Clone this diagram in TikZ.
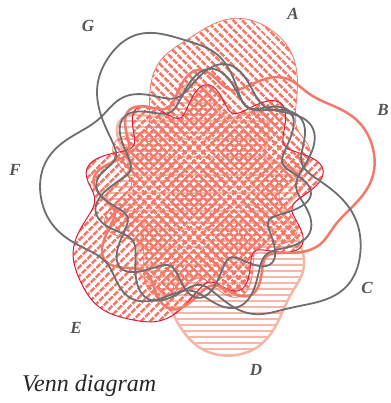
\documentclass[tikz,border=0pt]{standalone}
\usepackage{fontspec}
\setmainfont{Liberation Serif}
\usetikzlibrary{patterns.meta}
\definecolor{salmon}{HTML}{F37A6B}
\definecolor{lsalmon}{HTML}{F7B5A6}
\definecolor{crimson}{HTML}{E21A3A}
\definecolor{vgray}{HTML}{6D6E70}
\definecolor{lblgray}{HTML}{555555}
% vr(t, phi, Ro, phase, amp, n, Ri)
\pgfmathdeclarefunction{vr}{7}{%
  \begingroup
  \pgfmathparse{mod(#1-#2+540,360)-180}\let\tp\pgfmathresult
  \pgfmathparse{exp(-min((\tp/35)^2,10))}\let\g\pgfmathresult
  \pgfmathparse{#7+(#3-#7)*\g+(#5*sin(#6*\tp+#4)+8*cos(2*\tp+#4))*(1-\g)}%
  \pgfmathsmuggle\pgfmathresult
  \endgroup}
\tikzset{
  setA/.style={draw=salmon,line width=0.8pt,pattern={Lines[angle=-45,distance=6.5pt,line width=3pt]},pattern color=salmon},
  setB/.style={draw=salmon,line width=2.5pt},
  setD/.style={draw=lsalmon,line width=2.5pt,pattern={Lines[angle=0,distance=6pt,line width=2.6pt]},pattern color=lsalmon},
  setE/.style={draw=crimson,line width=1pt,pattern={Lines[angle=45,distance=6.5pt,line width=3pt]},pattern color=salmon},
  setG/.style={draw=vgray,line width=1.8pt},
  lbl/.style={font=\bfseries\itshape\fontsize{17}{17}\selectfont,text=lblgray}
}
\newcommand\vcurve[6]{plot[smooth cycle,samples=160,domain=0:357.75,variable=\t]
  ({205+vr(\t,#1,#2,#3,#4,#5,#6)*cos(\t)},{190+vr(\t,#1,#2,#3,#4,#5,#6)*sin(\t)})}
\begin{document}
\begin{tikzpicture}[x=1pt,y=-1pt]
\useasboundingbox (0,0) rectangle (390,403);
% D
\path[setD] \vcurve{78}{168}{45}{13}{8}{90};
% A
\path[setA] \vcurve{-75}{176}{0}{14}{8}{95};
% E
\path[setE] \vcurve{134}{158}{300}{14}{9}{98};
% B
\draw[setB] \vcurve{-14}{173}{90}{12}{9}{105};
% C, F, G
\draw[setG] \vcurve{31}{172}{200}{15}{7}{100};
\draw[setG] \vcurve{182}{165}{130}{13}{7}{108};
\draw[setG] \vcurve{244}{170}{220}{15}{8}{92};
\node[lbl] (la) at (293,14) {A};
\node[lbl] (lb) at (383,110) {B};
\node[lbl] (lc) at (367,288) {C};
\node[lbl] (ld) at (256,370) {D};
\node[lbl] (le) at (76,328) {E};
\node[lbl] (lf) at (15,170) {F};
\node[lbl] (lg) at (88,26) {G};
\node[anchor=west,font=\itshape\fontsize{24}{24}\selectfont,text=black!85,inner sep=0pt] (title) at (22,386) {Venn diagram};
\end{tikzpicture}
\end{document}
